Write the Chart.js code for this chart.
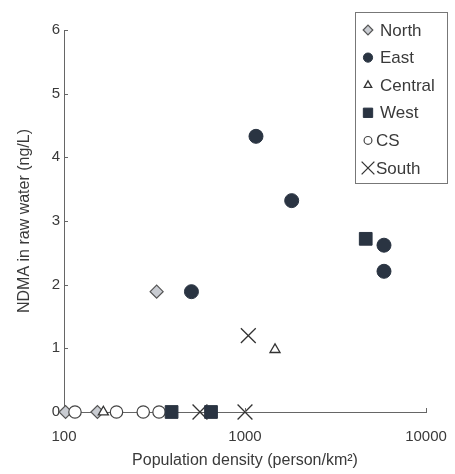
<!DOCTYPE html>
<html>
<head>
<meta charset="utf-8">
<script src="https://cdn.jsdelivr.net/npm/chart.js@4.4.1/dist/chart.umd.min.js"></script>
<style>
  html, body { margin: 0; padding: 0; background: #fff; }
  #wrap { width: 455px; height: 474px; }
</style>
</head>
<body>
<div id="wrap"><canvas id="myChart" width="455" height="474"></canvas></div>
<script>
// series data (x = population density, y = NDMA ng/L)
const northX = [102, 153, 325];
const northY = [0, 0, 1.89];
const eastX = [506, 1150, 1811, 5860, 5860];
const eastY = [1.89, 4.33, 3.32, 2.62, 2.21];
const centralX = [165, 1465];
const centralY = [0, 0.98];
const westX = [393, 649, 4645];
const westY = [0, 0, 2.72];
const csX = [115, 195, 274, 335];
const csY = [0, 0, 0, 0];
const southX = [564, 1000, 1043];
const southY = [0, 0, 1.2];

const seriesNames = ['North', 'East', 'Central', 'West', 'CS', 'South'];
const xTickValues = [100, 1000, 10000];
const yTickValues = [0, 1, 2, 3, 4, 5, 6];

const dark = '#2a3442';
const textColor = '#3a3a3a';
const fontFamily = '"Liberation Sans", Arial, sans-serif';

function pairs(xs, ys) {
  return xs.map((x, i) => ({ x: x, y: ys[i] }));
}

// legend drawn inside the plot, like the original figure
const boxLegend = {
  id: 'boxLegend',
  afterDraw(chart) {
    const c = chart.ctx;
    const left = 355, top = 12, right = 447, bottom = 183;
    c.save();
    c.strokeStyle = '#777';
    c.lineWidth = 1;
    c.strokeRect(left + 0.5, top + 0.5, right - left, bottom - top);
    c.font = '17px ' + fontFamily;
    c.textBaseline = 'middle';
    c.textAlign = 'left';
    chart.data.datasets.forEach((ds, i) => {
      const y = 30 + i * 27.6;
      c.fillStyle = ds.backgroundColor;
      c.strokeStyle = ds.borderColor;
      c.lineWidth = ds.borderWidth;
      Chart.helpers.drawPoint(c, {
        pointStyle: ds.pointStyle,
        radius: ds.legendRadius,
        rotation: 0,
        borderWidth: ds.borderWidth
      }, 368, y);
      c.fillStyle = textColor;
      c.fillText(ds.label, ds.pointStyle === 'crossRot' || ds.label === 'CS' ? 376 : 380, y + 1);
    });
    c.restore();
  }
};

// small inward tick marks on both axes
const innerTicks = {
  id: 'innerTicks',
  afterDatasetsDraw(chart) {
    const c = chart.ctx;
    const xs = chart.scales.x, ys = chart.scales.y;
    const a = chart.chartArea;
    c.save();
    c.strokeStyle = '#666';
    c.lineWidth = 1;
    c.beginPath();
    yTickValues.forEach(v => {
      if (v === 0) return;
      const py = Math.round(ys.getPixelForValue(v)) + 0.5;
      c.moveTo(a.left, py);
      c.lineTo(a.left + 4, py);
    });
    xTickValues.forEach(v => {
      if (v === 100) return;
      const px = Math.round(xs.getPixelForValue(v)) + 0.5;
      c.moveTo(px, a.bottom);
      c.lineTo(px, a.bottom - 4);
    });
    c.stroke();
    c.restore();
  }
};

const ctx = document.getElementById('myChart');

new Chart(ctx, {
  type: 'scatter',
  data: {
    datasets: [
      {
        label: seriesNames[0], data: pairs(northX, northY), order: 6,
        pointStyle: 'rectRot', pointRadius: 6.5, legendRadius: 4.8,
        backgroundColor: '#c9ccd2', borderColor: '#555', borderWidth: 1.2
      },
      {
        label: seriesNames[1], data: pairs(eastX, eastY), order: 1,
        pointStyle: 'circle', pointRadius: 7, legendRadius: 4.6,
        backgroundColor: dark, borderColor: dark, borderWidth: 1
      },
      {
        label: seriesNames[2], data: pairs(centralX, centralY), order: 4,
        pointStyle: 'triangle', pointRadius: 5.8, legendRadius: 4.3,
        backgroundColor: '#fff', borderColor: '#333', borderWidth: 1.3
      },
      {
        label: seriesNames[3], data: pairs(westX, westY), order: 2,
        pointStyle: 'rect', pointRadius: 9, legendRadius: 6.6,
        backgroundColor: dark, borderColor: dark, borderWidth: 1
      },
      {
        label: seriesNames[4], data: pairs(csX, csY), order: 5,
        pointStyle: 'circle', pointRadius: 6.2, legendRadius: 3.9,
        backgroundColor: '#fff', borderColor: '#444', borderWidth: 1.2
      },
      {
        label: seriesNames[5], data: pairs(southX, southY), order: 3,
        pointStyle: 'crossRot', pointRadius: 10.5, legendRadius: 9,
        backgroundColor: '#333', borderColor: '#333', borderWidth: 1.3
      }
    ]
  },
  options: {
    responsive: false,
    animation: false,
    clip: false,
    layout: { padding: { left: 0, right: 29, top: 30, bottom: 0 } },
    plugins: {
      legend: { display: false },
      tooltip: { enabled: false }
    },
    elements: { point: { hoverRadius: 0 } },
    scales: {
      x: {
        type: 'logarithmic',
        min: 100,
        max: 10000,
        afterBuildTicks(scale) {
          scale.ticks = xTickValues.map(v => ({ value: v }));
        },
        afterFit(scale) {
          scale.height = 62;
          scale.paddingLeft = 0;
          scale.paddingRight = 0;
        },
        grid: { display: false, drawTicks: false },
        border: { display: true, color: '#666', width: 1 },
        ticks: {
          color: textColor,
          padding: 16,
          font: { family: fontFamily, size: 15 },
          callback: v => String(v)
        },
        title: {
          display: true,
          text: 'Population density (person/km²)',
          color: textColor,
          font: { family: fontFamily, size: 16 },
          padding: { top: 0, bottom: 4 }
        }
      },
      y: {
        min: 0,
        max: 6,
        afterBuildTicks(scale) {
          scale.ticks = yTickValues.map(v => ({ value: v }));
        },
        afterFit(scale) { scale.width = 64; },
        grid: { display: false, drawTicks: false },
        border: { display: true, color: '#666', width: 1 },
        ticks: {
          color: textColor,
          padding: 4,
          font: { family: fontFamily, size: 15 }
        },
        title: {
          display: true,
          text: 'NDMA in raw water (ng/L)',
          color: textColor,
          font: { family: fontFamily, size: 16 },
          padding: { top: 15, bottom: 0 }
        }
      }
    }
  },
  plugins: [innerTicks, boxLegend]
});
</script>
</body>
</html>
